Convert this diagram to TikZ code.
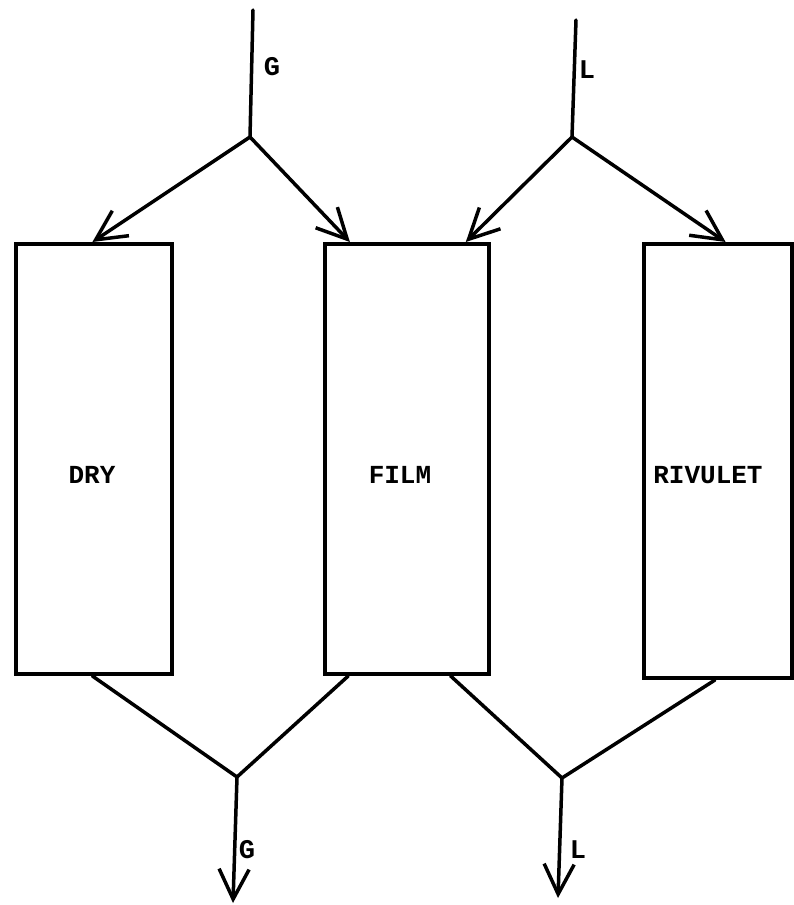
\documentclass[tikz,border=0pt]{standalone}
\usepackage{fontspec}
\setmonofont{Liberation Mono}
\usetikzlibrary{arrows.meta,calc}
\tikzset{
  unitbox/.style={draw, line width=4pt, minimum width=#1, inner sep=0pt, anchor=north west},
  stream/.style={line width=3.5pt, line cap=round, line join=round},
  feed/.style={stream, -{Straight Barb[length=30pt, width=30pt, line width=3.5pt]}},
  tag/.style={font=\ttfamily\bfseries\fontsize{26}{30}\selectfont, inner sep=0pt},
  flow/.style={font=\ttfamily\bfseries\fontsize{27}{30}\selectfont, inner sep=0pt}
}
\begin{document}
\begin{tikzpicture}[x=1pt, y=-1pt]
  \useasboundingbox (0,0) rectangle (794,905);

  % the three contact regions
  \node[unitbox=156pt, minimum height=430pt] (dry)  at (14,242)  {};
  \node[unitbox=164pt, minimum height=430pt] (film) at (323,242) {};
  \node[unitbox=148pt, minimum height=434pt] (riv)  at (642,242) {};

  \node[tag] (drytext)  at (92,475)  {DRY};
  \node[tag] (filmtext) at (400,475) {FILM};
  \node[tag] (rivtext)  at (708,475) {RIVULET};

  % inlet, split and outlet points
  \coordinate (gin)    at (253,10);
  \coordinate (gsplit) at (250,137);
  \coordinate (lin)    at (576,20);
  \coordinate (lsplit) at (572,137);
  \coordinate (gjoin)  at (237,777);
  \coordinate (ljoin)  at (562,778);
  \coordinate (gout)   at (233,903);
  \coordinate (lout)   at (558,898);

  % gas and liquid entering the tops
  \draw[stream] (gin) -- (gsplit);
  \draw[feed] (gsplit) -- ($(dry.north west)!0.49!(dry.north east)$);
  \draw[feed] (gsplit) -- ($(film.north west)!0.16!(film.north east)$);
  \draw[stream] (lin) -- (lsplit);
  \draw[feed] (lsplit) -- ($(film.north west)!0.85!(film.north east)$);
  \draw[feed] (lsplit) -- ($(riv.north west)!0.55!(riv.north east)$);

  % streams leaving the bottoms
  \draw[stream] ($(dry.south west)!0.49!(dry.south east)$) -- (gjoin);
  \draw[stream] ($(film.south west)!0.15!(film.south east)$) -- (gjoin);
  \draw[feed] (gjoin) -- (gout);
  \draw[stream] ($(film.south west)!0.76!(film.south east)$) -- (ljoin);
  \draw[stream] ($(riv.south west)!0.48!(riv.south east)$) -- (ljoin);
  \draw[feed] (ljoin) -- (lout);

  % stream labels
  \node[flow] (gtop) at (272,67)  {G};
  \node[flow] (ltop) at (587,70)  {L};
  \node[flow] (gbot) at (247,850) {G};
  \node[flow] (lbot) at (578,850) {L};
\end{tikzpicture}
\end{document}
